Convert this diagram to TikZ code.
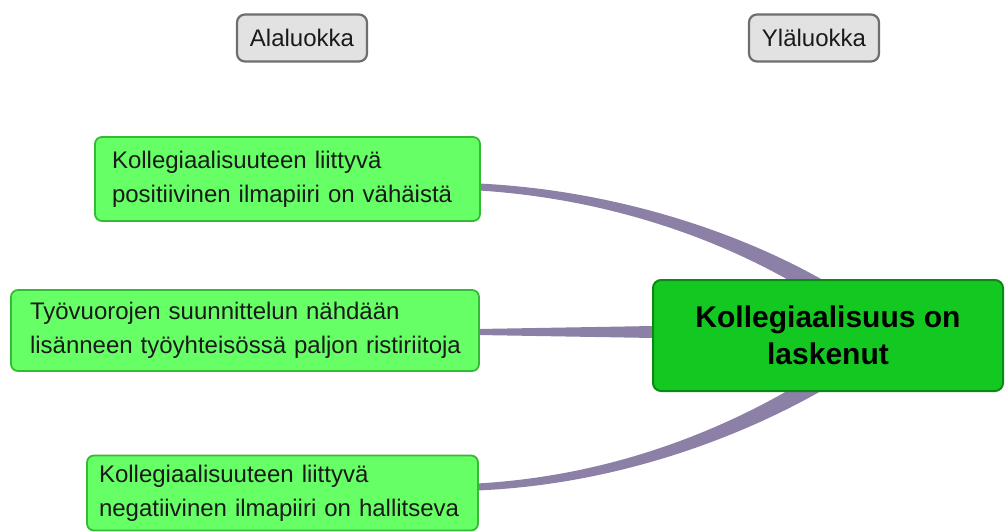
\documentclass[tikz,border=0pt]{standalone}
\usepackage{fontspec}
\setmainfont{Liberation Sans}
\usetikzlibrary{calc,backgrounds}
\hyphenpenalty=10000
\exhyphenpenalty=10000
\definecolor{childfill}{HTML}{66FF66}
\definecolor{childline}{HTML}{33BB33}
\definecolor{ctrfill}{HTML}{14C822}
\definecolor{ctrline}{HTML}{0A8A14}
\definecolor{grayfill}{HTML}{E2E2E2}
\definecolor{grayline}{HTML}{6E6E6E}
\definecolor{connc}{HTML}{8C80A6}
\definecolor{txt}{HTML}{1A1A1A}
\tikzset{
  childbox/.style={draw=childline, fill=childfill, line width=1.8pt, rounded corners=7pt,
    align=left, text=txt, font=\fontsize{24}{34}\selectfont, inner ysep=0pt},
  ctrbox/.style={draw=ctrline, fill=ctrfill, line width=2pt, rounded corners=8pt,
    align=center, text=black, font=\bfseries\fontsize{30}{37}\selectfont,
    minimum width=350pt, minimum height=111pt, inner sep=0pt},
  graybox/.style={draw=grayline, fill=grayfill, line width=2.2pt, rounded corners=8pt,
    text=txt, font=\fontsize{24}{28}\selectfont, minimum width=130pt, minimum height=47pt, inner sep=0pt},
  conn/.style={fill=connc}
}
\begin{document}
\begin{tikzpicture}[x=1pt,y=-1pt]
\useasboundingbox (0,0) rectangle (1006,532);
\node[graybox] (ala) at (302,38) {Alaluokka};
\node[graybox] (yla) at (814,38) {Yläluokka};
\node[childbox, text width=351pt, inner xsep=17pt, minimum height=84pt] (b1) at (287.5,179)
  {Kollegiaalisuuteen liittyvä\\positiivinen ilmapiiri on vähäistä};
\node[childbox, text width=440pt, inner xsep=14pt, minimum height=81pt] (b2) at (245,330.5)
  {\hspace*{5pt}Työvuorojen suunnittelun nähdään\\\hspace*{5pt}lisänneen työyhteisössä paljon ristiriitoja};
\node[childbox, text width=367pt, inner xsep=12pt, minimum height=75pt] (b3) at (282.5,493)
  {Kollegiaalisuuteen liittyvä\\negatiivinen ilmapiiri on hallitseva};
\node[ctrbox] (ctr) at (828,335.5) {Kollegiaalisuus on\\laskenut};
\begin{scope}[on background layer]
\fill[conn] ($(b1.east)+(-2,4.5)$) .. controls ($(b1.east)+(140,11.5)$) and ($(ctr.north west)+(96.2,-43.6)$) ..
  ($(ctr.north west)+(181.8,7.4)$) -- ($(ctr.north west)+(172.2,22.6)$)
  .. controls ($(ctr.north west)+(87.8,-32.4)$) and ($(b1.east)+(140,20.5)$) .. ($(b1.east)+(-2,11.5)$) -- cycle;
\fill[conn] ($(b2.east)+(-2,-1.5)$) -- ($(ctr.west)+(2,-9.5)$) -- ($(ctr.west)+(2,2.5)$) -- ($(b2.east)+(-2,4.5)$) -- cycle;
\fill[conn] ($(b3.east)+(-2,-9.5)$) .. controls ($(b3.east)+(142,-17.5)$) and ($(ctr.south west)+(87.8,31.4)$) ..
  ($(ctr.south west)+(172.2,-23.6)$) -- ($(ctr.south west)+(181.8,-8.4)$)
  .. controls ($(ctr.south west)+(96.2,42.6)$) and ($(b3.east)+(142,-8.5)$) .. ($(b3.east)+(-2,-2.5)$) -- cycle;
\end{scope}
\end{tikzpicture}
\end{document}
